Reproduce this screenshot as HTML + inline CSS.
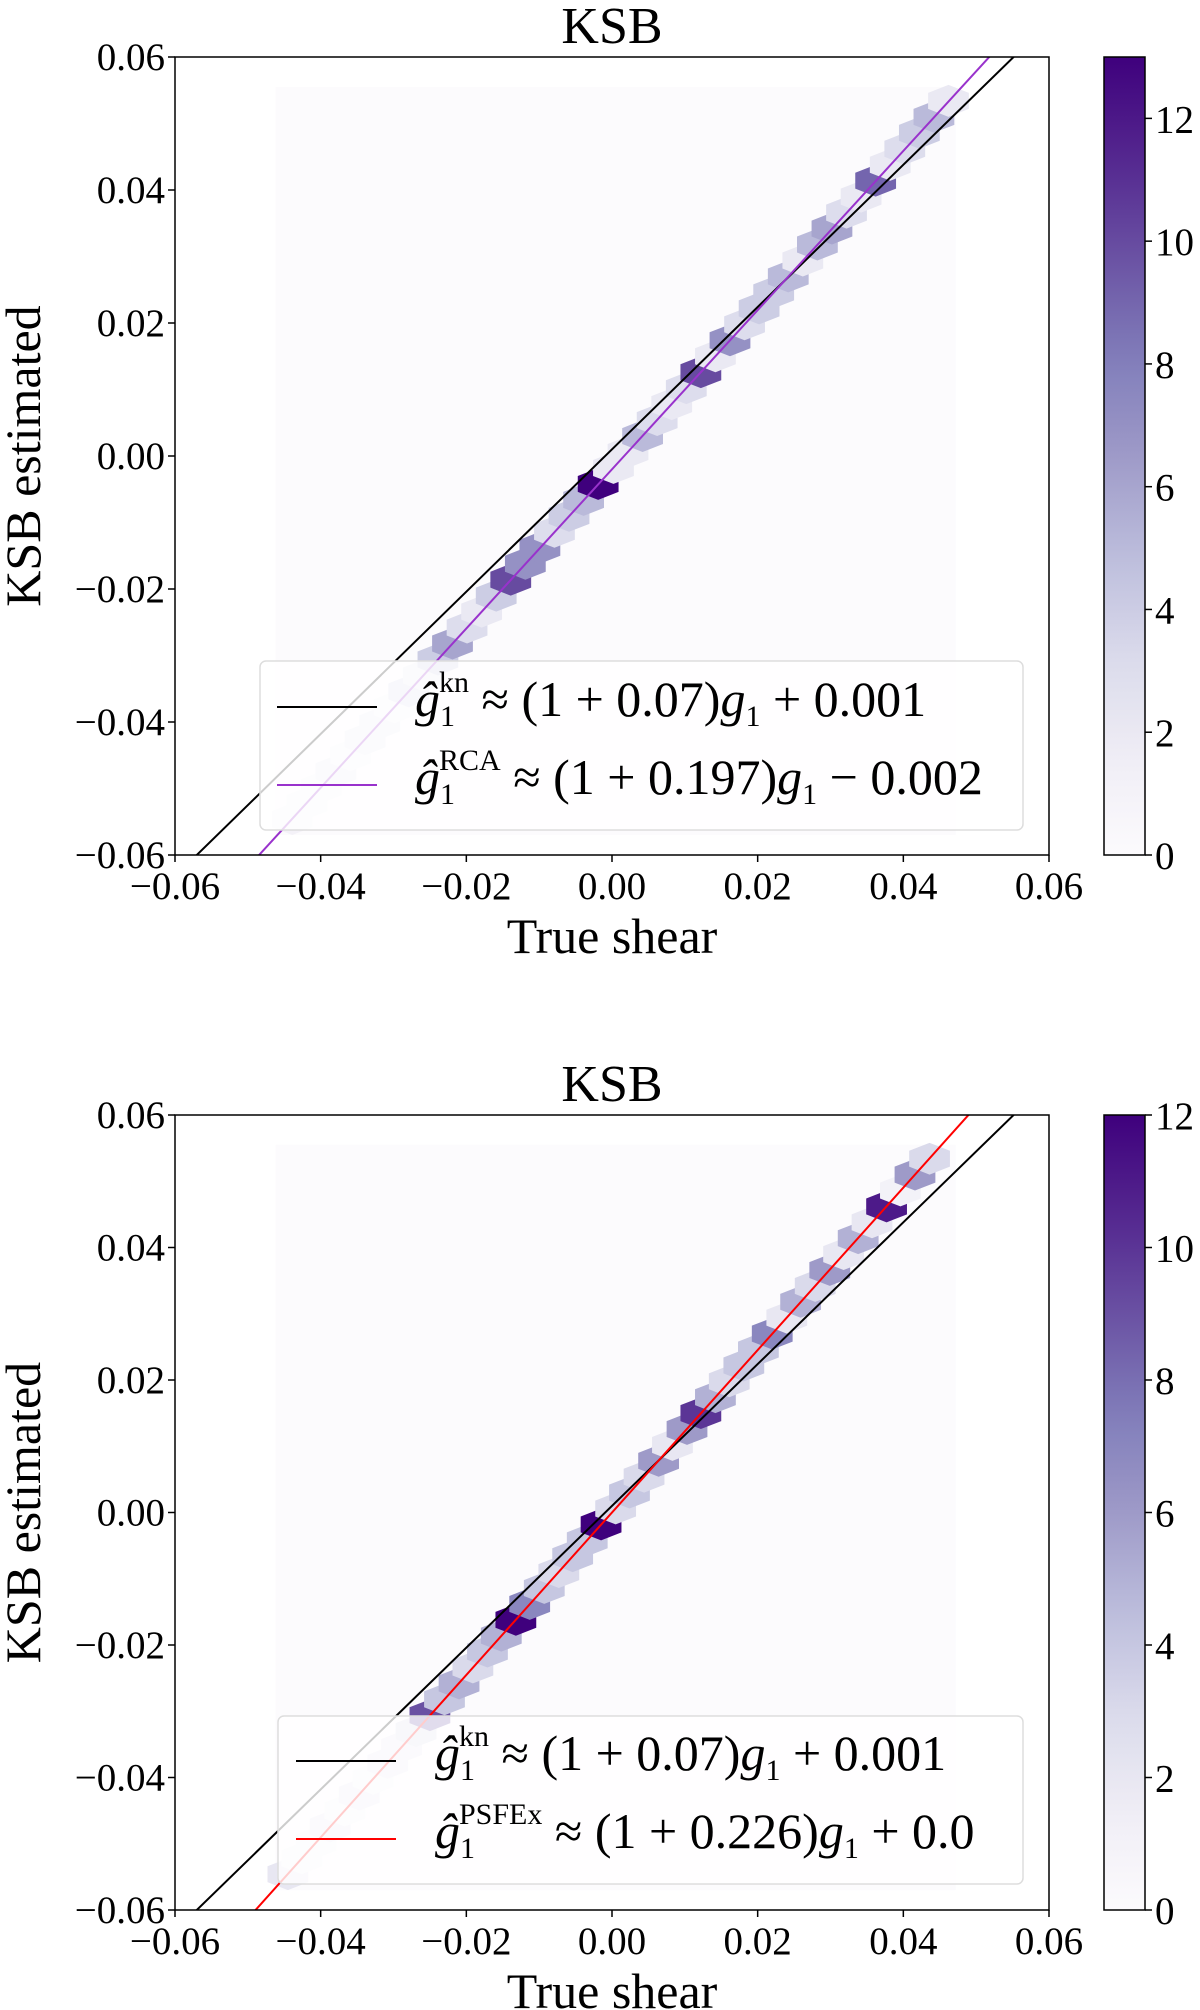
<!DOCTYPE html>
<html><head><meta charset="utf-8">
<style>
body{margin:0;background:#fff;}
#wrap{position:relative;width:1200px;height:2010px;overflow:hidden;font-family:"Liberation Serif",serif;color:#000;}
svg{position:absolute;left:0;top:0;}
.leg{position:absolute;font-size:50px;white-space:nowrap;font-family:"Liberation Serif",serif;}
.leg i{font-style:italic;}
.leg sup{font-size:30px;vertical-align:24px;}
.leg sub{font-size:30px;vertical-align:-10px;}
</style></head>
<body>
<div id="wrap">
<svg id="chart" width="1200" height="2010" xmlns="http://www.w3.org/2000/svg"></svg>
<div class="leg" style="left:415px;top:666px"><i>ĝ</i><sub>1</sub><sup style="margin-left:-16px">kn</sup> ≈ (1 + 0.07)<i>g</i><sub>1</sub> + 0.001</div>
<div class="leg" style="left:415px;top:744px"><i>ĝ</i><sub>1</sub><sup style="margin-left:-16px">RCA</sup> ≈ (1 + 0.197)<i>g</i><sub>1</sub> − 0.002</div>
<div class="leg" style="left:435px;top:1720px"><i>ĝ</i><sub>1</sub><sup style="margin-left:-16px">kn</sup> ≈ (1 + 0.07)<i>g</i><sub>1</sub> + 0.001</div>
<div class="leg" style="left:435px;top:1798px"><i>ĝ</i><sub>1</sub><sup style="margin-left:-16px">PSFEx</sup> ≈ (1 + 0.226)<i>g</i><sub>1</sub> + 0.0</div>
</div>
<script>
const xTicks=[-0.06,-0.04,-0.02,0.00,0.02,0.04,0.06];
const yTicks=[-0.06,-0.04,-0.02,0.00,0.02,0.04,0.06];
const hexY=[-0.0546,-0.0522,-0.0498,-0.0474,-0.0450,-0.0426,-0.0402,-0.0378,-0.0354,-0.0330,-0.0306,-0.0282,-0.0258,-0.0234,-0.0210,-0.0186,-0.0162,-0.0138,-0.0114,-0.0090,-0.0066,-0.0042,-0.0018,0.0006,0.0030,0.0054,0.0078,0.0102,0.0126,0.0150,0.0174,0.0198,0.0222,0.0246,0.0270,0.0294,0.0318,0.0342,0.0366,0.0390,0.0414,0.0438,0.0462,0.0486,0.0510,0.0534];
const topHexX=[-0.0439,-0.0419,-0.0399,-0.0379,-0.0359,-0.0339,-0.0319,-0.0299,-0.0279,-0.0259,-0.0239,-0.0219,-0.0199,-0.0179,-0.0159,-0.0139,-0.0119,-0.0099,-0.0079,-0.0059,-0.0039,-0.0019,0.0002,0.0022,0.0042,0.0062,0.0082,0.0102,0.0122,0.0142,0.0162,0.0182,0.0202,0.0222,0.0242,0.0262,0.0282,0.0302,0.0322,0.0342,0.0362,0.0382,0.0402,0.0422,0.0442,0.0462];
const topCounts=[1,1,1,2,1,2,2,1,3,2,4,6,3,2,4,10,7,7,3,4,5,13,2,2,5,3,2,3,10,2,7,3,4,4,5,2,5,6,3,2,9,2,3,4,5,2];
const botHexX=[-0.0445,-0.0426,-0.0406,-0.0387,-0.0367,-0.0347,-0.0328,-0.0308,-0.0289,-0.0269,-0.0250,-0.0230,-0.0210,-0.0191,-0.0171,-0.0152,-0.0132,-0.0113,-0.0093,-0.0073,-0.0054,-0.0034,-0.0015,0.0005,0.0024,0.0044,0.0064,0.0083,0.0103,0.0122,0.0142,0.0161,0.0181,0.0201,0.0220,0.0240,0.0259,0.0279,0.0299,0.0318,0.0338,0.0357,0.0377,0.0396,0.0416,0.0436];
const botCounts=[2,1,1,2,1,2,1,2,2,3,9,4,5,3,4,5,12,7,4,3,4,4,12,3,4,3,6,2,6,10,5,3,4,4,7,2,5,3,6,2,5,2,11,1,6,3];
const topMax=13, botMax=12;
const topCbTicks=[0,2,4,6,8,10,12];
const botCbTicks=[0,2,4,6,8,10,12];
const fits={kn:[0.07,0.001],rca:[0.197,-0.002],psfex:[0.226,0.0]};

const NS="http://www.w3.org/2000/svg";
const svg=document.getElementById('chart');
function mk(tag,attrs,parent){const e=document.createElementNS(NS,tag);for(const k in attrs)e.setAttribute(k,attrs[k]);(parent||svg).appendChild(e);return e;}
const stops=['#fcfbfd','#efedf5','#dadaeb','#bcbddc','#9e9ac8','#807dba','#6a51a3','#54278f','#3f007d'];
function hex2rgb(h){return [1,3,5].map(i=>parseInt(h.substr(i,2),16));}
function cmap(t){t=Math.max(0,Math.min(1,t))*8;const i=Math.min(7,Math.floor(t));const f=t-i;const a=hex2rgb(stops[i]),b=hex2rgb(stops[i+1]);return 'rgb('+a.map((v,j)=>Math.round(v+(b[j]-v)*f)).join(',')+')';}

function panel(id,L,R,T,B,hx,hy,counts,vmax,cbTicks,fitKey,fitColor,legBox,legLines){
  const xs=v=>L+(v+0.06)/0.12*(R-L);
  const ys=v=>B-(v+0.06)/0.12*(B-T);
  const g=mk('g',{});
  
  
  const cp=mk('clipPath',{id:'clip-'+id},g);
  mk('rect',{x:L,y:T,width:R-L,height:B-T},cp);
  const plot=mk('g',{'clip-path':'url(#clip-'+id+')'},g);
  const bg=mk('rect',{x:xs(-0.0462),y:ys(0.0555),width:xs(0.0472)-xs(-0.0462),height:ys(-0.057)-ys(0.0555),fill:cmap(0)},plot);
  
  
  const hw=0.0028, hh=0.0024;
  for(let i=0;i<hx.length;i++){
    const cx=xs(hx[i]),cy=ys(hy[i]);
    const a=xs(hw)-xs(0),b=ys(0)-ys(hh);
    const pts=[[cx,cy-b],[cx+a,cy-b/2],[cx+a,cy+b/2],[cx,cy+b],[cx-a,cy+b/2],[cx-a,cy-b/2]].map(p=>p.join(',')).join(' ');
    const h=mk('polygon',{points:pts,fill:cmap(counts[i]/vmax)},plot);
    
    
  }
  const drawFit=(key,col)=>{const f=fits[key];const l=mk('line',{x1:xs(-0.07),y1:ys((1+f[0])*-0.07+f[1]),x2:xs(0.07),y2:ys((1+f[0])*0.07+f[1]),stroke:col,'stroke-width':2},plot);
    
    };
  drawFit('kn','#000');
  drawFit(fitKey,fitColor);
  const lb=mk('rect',{x:legBox[0],y:legBox[1],width:legBox[2],height:legBox[3],rx:6,fill:'rgba(255,255,255,0.8)',stroke:'#ddd','stroke-width':1.5},g);
  
  
  const l1=mk('line',{x1:legLines[0],x2:legLines[1],y1:legLines[2],y2:legLines[2],stroke:'#000','stroke-width':2},g);
  
  
  const l2=mk('line',{x1:legLines[0],x2:legLines[1],y1:legLines[3],y2:legLines[3],stroke:fitColor,'stroke-width':2},g);
  
  
  const fr=mk('rect',{x:L,y:T,width:R-L,height:B-T,fill:'none',stroke:'#000','stroke-width':1.5},g);
  
  
  xTicks.forEach(v=>{mk('line',{x1:xs(v),x2:xs(v),y1:B,y2:B+7,stroke:'#000','stroke-width':1.5},g);
    const t=mk('text',{x:xs(v),y:B+44,'text-anchor':'middle','font-size':39,'font-family':'Liberation Serif, serif'},g);
    t.textContent=(v<0?'−':'')+Math.abs(v).toFixed(2);
    
    });
  yTicks.forEach(v=>{mk('line',{x1:L-7,x2:L,y1:ys(v),y2:ys(v),stroke:'#000','stroke-width':1.5},g);
    const t=mk('text',{x:L-10,y:ys(v)+13,'text-anchor':'end','font-size':39,'font-family':'Liberation Serif, serif'},g);
    t.textContent=(v<0?'−':'')+Math.abs(v).toFixed(2);
    
    });
  const ti=mk('text',{x:(L+R)/2,y:T-14,'text-anchor':'middle','font-size':52,'font-family':'Liberation Serif, serif'},g);
  ti.textContent='KSB';
  
  
  const xl=mk('text',{x:(L+R)/2,y:B+98,'text-anchor':'middle','font-size':50,'font-family':'Liberation Serif, serif'},g);
  xl.textContent='True shear';
  
  
  const yl=mk('text',{x:0,y:0,'text-anchor':'middle','font-size':50,'font-family':'Liberation Serif, serif',transform:'translate(40,'+((T+B)/2)+') rotate(-90)'},g);
  yl.textContent='KSB estimated';
  
  
  const cbL=1104,cbR=1145;
  const gid='grad-'+id;
  const lg=mk('linearGradient',{id:gid,x1:0,y1:1,x2:0,y2:0},g);
  for(let i=0;i<=20;i++)mk('stop',{offset:i/20,'stop-color':cmap(i/20)},lg);
  const cb=mk('rect',{x:cbL,y:T,width:cbR-cbL,height:B-T,fill:'url(#'+gid+')',stroke:'#000','stroke-width':1.5},g);
  
  
  const cs=v=>B-v/vmax*(B-T);
  cbTicks.forEach(v=>{mk('line',{x1:cbR,x2:cbR+7,y1:cs(v),y2:cs(v),stroke:'#000','stroke-width':1.5},g);
    const t=mk('text',{x:cbR+10,y:cs(v)+14,'font-size':39,'font-family':'Liberation Serif, serif'},g);
    t.textContent=String(v);
    
    });
}
panel('top',175,1049,57,855,topHexX,hexY,topCounts,topMax,topCbTicks,'rca','#9932cc',[260,661,763,169],[277,377,707,785]);
panel('bottom',175,1049,1115,1910,botHexX,hexY,botCounts,botMax,botCbTicks,'psfex','#ff0000',[278,1716,745,168],[296,396,1761,1839]);
</script>
</body></html>
